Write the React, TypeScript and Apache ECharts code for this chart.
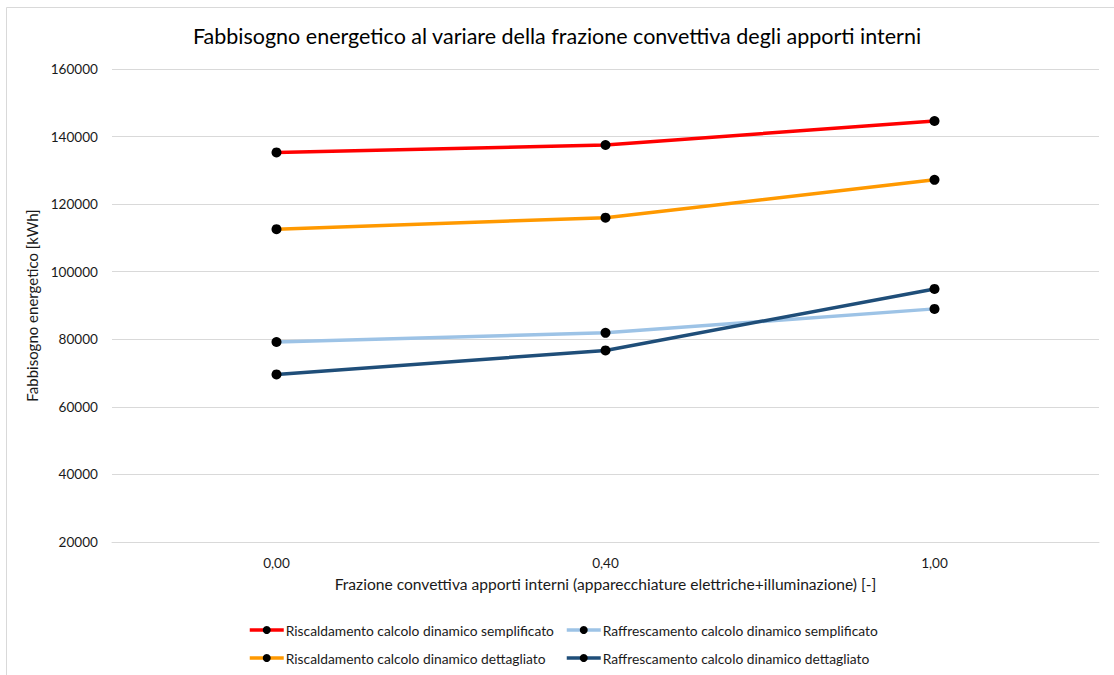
import React, { useEffect, useRef } from "react";
import * as echarts from "echarts";

const categories = ["0,00", "0,40", "1,00"];
const riscSemplificato = [135300, 137500, 144600];
const riscDettagliato = [112600, 116000, 127200];
const raffSemplificato = [79200, 81900, 89000];
const raffDettagliato = [69600, 76700, 94900];
const seriesNames = [
  "Riscaldamento calcolo dinamico semplificato",
  "Raffrescamento calcolo dinamico semplificato",
  "Riscaldamento calcolo dinamico dettagliato",
  "Raffrescamento calcolo dinamico dettagliato",
];
const seriesColors = ["#ff0000", "#9dc3e6", "#ff9900", "#1f4e79"];

const FONT = "Lato, 'Open Sans', sans-serif";

export default function App() {
  const ref = useRef<HTMLDivElement>(null);
  useEffect(() => {
    if (!ref.current) return;
    const chart = echarts.init(ref.current, null, { renderer: "svg" });
    const values = [riscSemplificato, raffSemplificato, riscDettagliato, raffDettagliato];
    const mk = (i: number) => ({
      name: seriesNames[i],
      type: "line",
      data: values[i],
      symbol: "circle",
      symbolSize: 10,
      showSymbol: true,
      itemStyle: { color: "#000000", borderWidth: 0 },
      lineStyle: { color: seriesColors[i], width: 3.5 },
      z: 2 + i,
    });
    const legendBase = {
      orient: "vertical",
      top: 623,
      padding: 0,
      itemWidth: 34,
      itemHeight: 10,
      itemGap: 14,
      lineStyle: { width: 3.5 },
      textStyle: { fontFamily: FONT, fontSize: 13.8, color: "#1a1a1a", padding: [0, 0, 0, -3] },
    };
    chart.setOption({
      animation: false,
      backgroundColor: "#ffffff",
      textStyle: { fontFamily: FONT },
      title: {
        text: "Fabbisogno energetico al variare della frazione convettiva degli apporti interni",
        left: "center",
        top: 20,
        textStyle: { fontFamily: FONT, fontSize: 21.5, fontWeight: "normal", color: "#000000" },
      },
      graphic: [
        {
          type: "rect",
          shape: { x: 6.5, y: 7.5, width: 1200, height: 800 },
          style: { fill: "none", stroke: "#d9d9d9", lineWidth: 1 },
          silent: true,
        },
      ],
      grid: { left: 112, right: 15, top: 69, bottom: 133, containLabel: false },
      xAxis: {
        type: "category",
        data: categories,
        boundaryGap: true,
        name: "Frazione convettiva apporti interni (apparecchiature elettriche+illuminazione) [-]",
        nameLocation: "middle",
        nameGap: 34,
        nameTextStyle: { fontFamily: FONT, fontSize: 15.6, color: "#1a1a1a" },
        axisLine: { show: true, lineStyle: { color: "#d9d9d9", width: 1 } },
        axisTick: { show: false },
        axisLabel: { fontFamily: FONT, fontSize: 13.6, color: "#1a1a1a", margin: 14 },
      },
      yAxis: {
        type: "value",
        min: 20000,
        max: 160000,
        interval: 20000,
        name: "Fabbisogno energetico [kWh]",
        nameLocation: "middle",
        nameGap: 64,
        nameTextStyle: { fontFamily: FONT, fontSize: 15, color: "#1a1a1a" },
        axisLine: { show: false },
        axisTick: { show: false },
        axisLabel: {
          fontFamily: FONT,
          fontSize: 13.6,
          color: "#1a1a1a",
          margin: 14,
          formatter: (v: number) => String(v),
        },
        splitLine: { lineStyle: { color: "#d9d9d9", width: 1 } },
      },
      legend: [
        { ...legendBase, left: 248, data: [seriesNames[0], seriesNames[2]] },
        { ...legendBase, left: 565, data: [seriesNames[1], seriesNames[3]] },
      ],
      series: [mk(0), mk(1), mk(2), mk(3)],
    });
    return () => chart.dispose();
  }, []);
  return (
    <div
      ref={ref}
      style={{ position: "fixed", left: 0, top: 0, width: 1114, height: 675, background: "#fff" }}
    />
  );
}
